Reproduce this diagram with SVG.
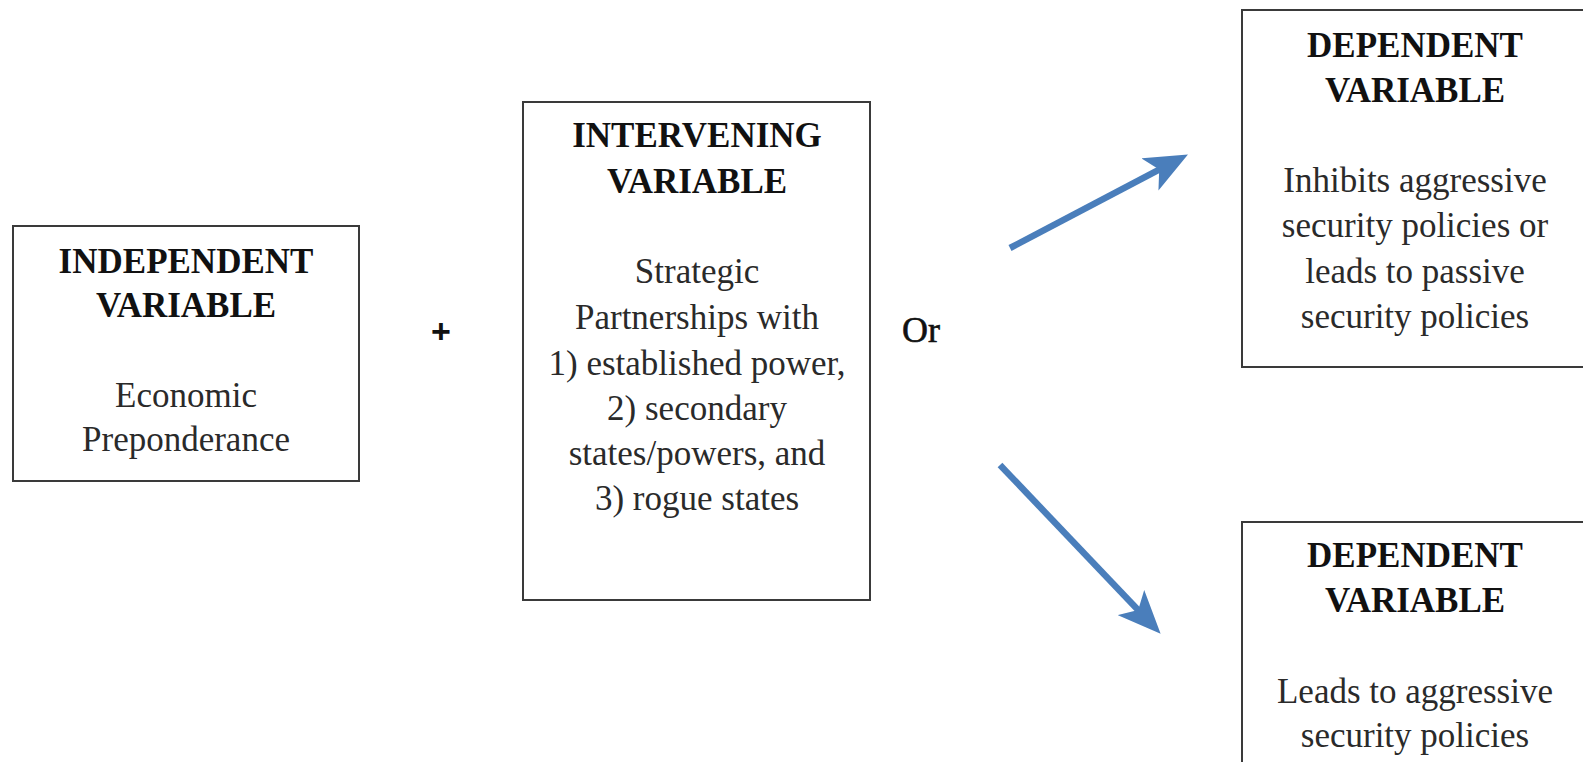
<svg xmlns="http://www.w3.org/2000/svg" width="1583" height="762" viewBox="0 0 1583 762">
<style>
.box{fill:#fff;stroke:#3a3a3a;stroke-width:2}
.h{font-family:"Liberation Serif","Times New Roman",serif;font-size:35px;font-weight:bold;fill:#111;text-anchor:middle}
.t{font-family:"Liberation Serif","Times New Roman",serif;font-size:35px;fill:#2a2a2a;text-anchor:middle}
.conn{stroke:#4a7ebb;stroke-width:6.5;fill:none;marker-end:url(#arr)}
</style>
<defs>
<marker id="arr" viewBox="0 0 6.6 5.6" markerWidth="6.6" markerHeight="5.6" refX="2.0" refY="2.8" orient="auto" markerUnits="strokeWidth">
<path d="M0,0 L6.6,2.8 L0,5.6 L1.6,2.8 Z" fill="#4a7ebb"/>
</marker>
</defs>
<rect width="1583" height="762" fill="#fff"/>
<g id="independent">
<rect class="box" x="13" y="226" width="346" height="255"/>
<text class="h" x="186" y="273">INDEPENDENT</text>
<text class="h" x="186" y="317">VARIABLE</text>
<text class="t" x="186" y="407">Economic</text>
<text class="t" x="186" y="451">Preponderance</text>
</g>
<g id="plus">
<text x="441" y="343" font-family="'Liberation Sans',Arial,sans-serif" font-size="34" font-weight="bold" fill="#111" text-anchor="middle">+</text>
</g>
<g id="intervening">
<rect class="box" x="523" y="102" width="347" height="498"/>
<text class="h" x="697" y="147">INTERVENING</text>
<text class="h" x="697" y="193">VARIABLE</text>
<text class="t" x="697" y="283">Strategic</text>
<text class="t" x="697" y="329">Partnerships with</text>
<text class="t" x="697" y="375">1) established power,</text>
<text class="t" x="697" y="420">2) secondary</text>
<text class="t" x="697" y="465">states/powers, and</text>
<text class="t" x="697" y="510">3) rogue states</text>
</g>
<g id="or">
<text x="921" y="342" font-family="'Liberation Serif','Times New Roman',serif" font-size="36" fill="#111" stroke="#111" stroke-width="0.6" text-anchor="middle">Or</text>
</g>
<g id="dependent1">
<rect class="box" x="1242" y="10" width="350" height="357"/>
<text class="h" x="1415" y="57">DEPENDENT</text>
<text class="h" x="1415" y="102">VARIABLE</text>
<text class="t" x="1415" y="192">Inhibits aggressive</text>
<text class="t" x="1415" y="237">security policies or</text>
<text class="t" x="1415" y="283">leads to passive</text>
<text class="t" x="1415" y="328">security policies</text>
</g>
<g id="dependent2">
<rect class="box" x="1242" y="522" width="350" height="260"/>
<text class="h" x="1415" y="567">DEPENDENT</text>
<text class="h" x="1415" y="612">VARIABLE</text>
<text class="t" x="1415" y="703">Leads to aggressive</text>
<text class="t" x="1415" y="747">security policies</text>
</g>
<g id="connectors">
<line class="conn" x1="1010" y1="248" x2="1161.5" y2="168.4"/>
<line class="conn" x1="1000" y1="465" x2="1140" y2="612"/>
</g>
</svg>
